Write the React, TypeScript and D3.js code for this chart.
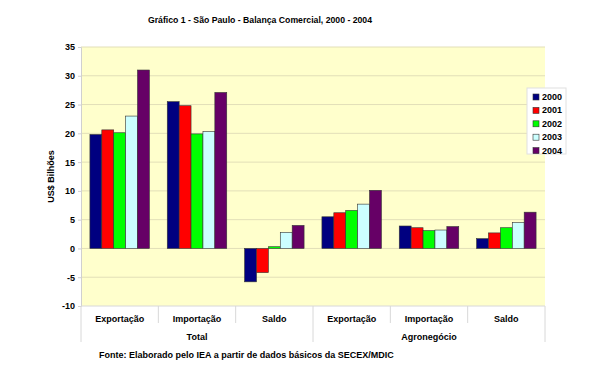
import { useEffect, useRef } from 'react';
import * as d3 from 'd3';

const years = ['2000', '2001', '2002', '2003', '2004'];
const colors = ['#000080', '#FF0000', '#00FF00', '#CCFFFF', '#660066'];
const categories = ['Exportação', 'Importação', 'Saldo', 'Exportação ', 'Importação ', 'Saldo '];
const groups = ['Total', 'Agronegócio'];

// values per year, in category order
const v2000 = [19.8, 25.5, -5.8, 5.5, 3.9, 1.7];
const v2001 = [20.6, 24.8, -4.2, 6.2, 3.6, 2.7];
const v2002 = [20.1, 19.9, 0.3, 6.6, 3.1, 3.6];
const v2003 = [23.0, 20.3, 2.8, 7.7, 3.2, 4.5];
const v2004 = [31.0, 27.1, 4.0, 10.1, 3.8, 6.3];
const series = [v2000, v2001, v2002, v2003, v2004];

const yTicks = [-10, -5, 0, 5, 10, 15, 20, 25, 30, 35];

const App = () => {
  const svgRef = useRef<SVGSVGElement>(null);

  useEffect(() => {
    const svg = d3.select(svgRef.current);
    svg.selectAll('*').remove();

    const left = 81, right = 545, top = 47, bottom = 306;
    const font = 'Liberation Sans, Arial, sans-serif';

    const x = d3.scaleBand().domain(categories).range([left, right]).padding(0);
    const xi = d3.scaleBand().domain(years).range([0, x.bandwidth()])
      .paddingInner(0).paddingOuter(0.75);
    const y = d3.scaleLinear().domain([-10, 35]).range([bottom, top]);

    // title
    svg.append('text')
      .attr('x', 260).attr('y', 23)
      .attr('text-anchor', 'middle')
      .attr('font-family', font).attr('font-weight', 'bold').attr('font-size', 8.7)
      .text('Gráfico 1 - São Paulo - Balança Comercial, 2000 - 2004');

    // plot background
    svg.append('rect')
      .attr('x', left).attr('y', top)
      .attr('width', right - left).attr('height', bottom - top)
      .attr('fill', '#FFFFCC');

    // gridlines
    svg.append('g').selectAll('line')
      .data(yTicks.filter(d => d !== -10))
      .join('line')
      .attr('x1', left).attr('x2', right)
      .attr('y1', d => y(d)).attr('y2', d => y(d))
      .attr('stroke', '#E2DFB8').attr('stroke-width', 1);

    // y axis
    const yAxis = svg.append('g')
      .attr('transform', `translate(${left},0)`)
      .call(d3.axisLeft(y).tickValues(yTicks).tickFormat(d => String(d)).tickSize(3).tickPadding(3));
    yAxis.select('.domain').attr('stroke', '#D0D0D0');
    yAxis.selectAll('.tick line').attr('stroke', '#D0D0D0');
    yAxis.selectAll('.tick text')
      .attr('font-family', font).attr('font-weight', 'bold').attr('font-size', 9)
      .attr('fill', '#000');

    // bars
    series.forEach((vals, si) => {
      svg.append('g').selectAll('rect')
        .data(vals)
        .join('rect')
        .attr('x', (_, i) => (x(categories[i]) as number) + (xi(years[si]) as number))
        .attr('width', xi.bandwidth())
        .attr('y', d => y(Math.max(0, d)))
        .attr('height', d => Math.abs(y(d) - y(0)))
        .attr('fill', colors[si])
        .attr('stroke', '#333')
        .attr('stroke-width', 0.6);
    });

    // category axis (below plot)
    const boundaries = [...categories.map(c => x(c) as number), right];
    svg.append('g').selectAll('line')
      .data(boundaries)
      .join('line')
      .attr('x1', d => d).attr('x2', d => d)
      .attr('y1', bottom)
      .attr('y2', (_, i) => (i % 3 === 0 ? 342 : 323))
      .attr('stroke', '#D8D8D8');
    svg.append('line')
      .attr('x1', left).attr('x2', right).attr('y1', bottom).attr('y2', bottom)
      .attr('stroke', '#D8D8D8');

    svg.append('g').selectAll('text')
      .data(categories)
      .join('text')
      .attr('x', d => (x(d) as number) + x.bandwidth() / 2)
      .attr('y', 322)
      .attr('text-anchor', 'middle')
      .attr('font-family', font).attr('font-weight', 'bold').attr('font-size', 9)
      .text(d => d.trim());

    svg.append('g').selectAll('text')
      .data(groups)
      .join('text')
      .attr('x', (_, i) => (x(categories[i * 3 + 1]) as number) + x.bandwidth() / 2)
      .attr('y', 340)
      .attr('text-anchor', 'middle')
      .attr('font-family', font).attr('font-weight', 'bold').attr('font-size', 9)
      .text(d => d);

    // y label
    svg.append('text')
      .attr('transform', `translate(54,${(top + bottom) / 2}) rotate(-90)`)
      .attr('text-anchor', 'middle')
      .attr('font-family', font).attr('font-weight', 'bold').attr('font-size', 9)
      .text('US$ Bilhões');

    // legend
    const lg = svg.append('g').attr('transform', 'translate(527,88)');
    lg.append('rect')
      .attr('width', 39).attr('height', 66)
      .attr('fill', '#fff').attr('stroke', '#E0E0E0');
    years.forEach((yr, i) => {
      const row = lg.append('g').attr('transform', `translate(6,${6 + i * 13.4})`);
      row.append('rect')
        .attr('width', 6).attr('height', 6)
        .attr('fill', colors[i]).attr('stroke', '#333').attr('stroke-width', 0.6);
      row.append('text')
        .attr('x', 9).attr('y', 6)
        .attr('font-family', font).attr('font-weight', 'bold').attr('font-size', 9)
        .text(yr);
    });

    // source
    svg.append('text')
      .attr('x', 99).attr('y', 358)
      .attr('font-family', font).attr('font-weight', 'bold').attr('font-size', 9)
      .text('Fonte: Elaborado pelo IEA a partir de dados básicos da SECEX/MDIC');
  }, []);

  return (
    <svg ref={svgRef} width={591} height={366} viewBox="0 0 591 366"
      style={{ position: 'absolute', left: 0, top: 0, background: '#fff' }} />
  );
};

export default App;
